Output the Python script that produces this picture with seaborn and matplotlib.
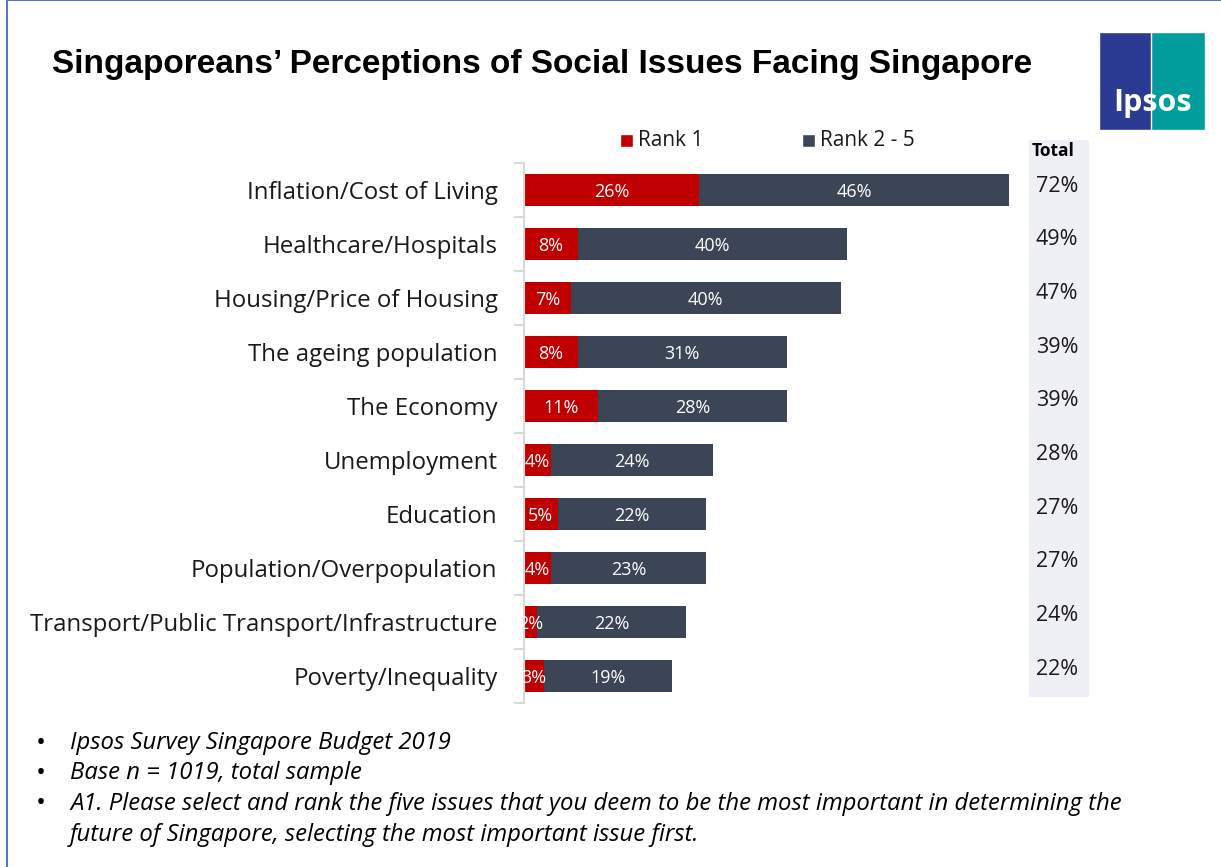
import matplotlib
matplotlib.use("Agg")
import matplotlib.pyplot as plt
import matplotlib.patches as mpatches
import seaborn as sns
import pandas as pd

# data
issues = [
    "Inflation/Cost of Living",
    "Healthcare/Hospitals",
    "Housing/Price of Housing",
    "The ageing population",
    "The Economy",
    "Unemployment",
    "Education",
    "Population/Overpopulation",
    "Transport/Public Transport/Infrastructure",
    "Poverty/Inequality",
]
rank1 = [26, 8, 7, 8, 11, 4, 5, 4, 2, 3]
rank2_5 = [46, 40, 40, 31, 28, 24, 22, 23, 22, 19]
totals = [72, 49, 47, 39, 39, 28, 27, 27, 24, 22]
footnotes = [
    ["Ipsos Survey Singapore Budget 2019"],
    ["Base n = 1019, total sample"],
    ["A1. Please select and rank the five issues that you deem to be the most important in determining the",
     "future of Singapore, selecting the most important issue first."],
]

RED = "#C00000"
DARK = "#3C4556"
W, H = 1221, 867

df = pd.DataFrame({"issue": issues, "rank1": rank1, "rank2_5": rank2_5})
df["stack"] = df["rank1"] + df["rank2_5"]

sns.set_theme(style="white")
plt.rcParams["font.family"] = ["Open Sans", "DejaVu Sans"]

fig = plt.figure(figsize=(W / 100, H / 100), dpi=100)


def fx(px):
    return px / W


def fy(py):
    return 1 - py / H


# page border
fig.patches.append(mpatches.Rectangle((fx(7), fy(880)), fx(1230), 880 / H,
                                      transform=fig.transFigure, fill=False,
                                      edgecolor="#5A78B8", linewidth=1.5,
                                      zorder=-1))

ax = fig.add_axes([fx(524), fy(703), fx(1009) - fx(524), (703 - 163) / H])

sns.barplot(data=df, x="stack", y="issue", color=DARK, width=0.6,
            saturation=1, ax=ax, orient="h", linewidth=0)
sns.barplot(data=df, x="rank1", y="issue", color=RED, width=0.6,
            saturation=1, ax=ax, orient="h", linewidth=0)

for i, (r1, r2) in enumerate(zip(rank1, rank2_5)):
    ax.text(r1 / 2, i + 0.03, f"{r1}%", ha="center", va="center",
            color="white", fontsize=13)
    ax.text(r1 + r2 / 2, i + 0.03, f"{r2}%", ha="center", va="center",
            color="white", fontsize=13)

ax.set_xlim(0, 72)
ax.set_ylim(9.5, -0.5)
ax.set_xlabel("")
ax.set_ylabel("")
ax.set_xticks([])
for s in ["top", "right", "bottom"]:
    ax.spines[s].set_visible(False)
ax.spines["left"].set_color("#D9D9D9")
ax.spines["left"].set_linewidth(1.5)
ax.set_yticks(range(len(issues)))
ax.set_yticklabels(issues, fontsize=17.3, color="#1a1a1a")
ax.set_yticks([i - 0.5 for i in range(len(issues) + 1)], minor=True)
ax.tick_params(axis="y", which="major", length=0, pad=19)
ax.tick_params(axis="y", which="minor", length=7, width=1.5,
               color="#D9D9D9", left=True)

# total column
fig.patches.append(mpatches.Rectangle((fx(1029), fy(697)), fx(1089) - fx(1029),
                                      (697 - 140) / H, transform=fig.transFigure,
                                      facecolor="#EFF0F5", edgecolor="none",
                                      zorder=-1))
fig.text(fx(1053), fy(151), "Total", ha="center", va="center",
         fontsize=12.5, fontweight="bold", color="black")
for i, t in enumerate(totals):
    ypx = 190 + i * 53.7 - 4
    fig.text(fx(1057), fy(ypx), f"{t}%", ha="center", va="center",
             fontsize=15.5, color="#1a1a1a")

# legend
fig.patches.append(mpatches.Rectangle((fx(620), fy(147)), fx(13), 13 / H,
                                      transform=fig.transFigure, facecolor=RED))
fig.text(fx(638), fy(140), "Rank 1", va="center", fontsize=15, color="#1a1a1a")
fig.patches.append(mpatches.Rectangle((fx(802), fy(147)), fx(13), 13 / H,
                                      transform=fig.transFigure, facecolor=DARK))
fig.text(fx(820), fy(140), "Rank 2 - 5", va="center", fontsize=15,
         color="#1a1a1a")

# title
fig.text(fx(52), fy(65), "Singaporeans\u2019 Perceptions of Social Issues Facing Singapore",
         fontsize=24, fontweight="bold", family="Liberation Sans",
         va="center", color="black")

# Ipsos logo
fig.patches.append(mpatches.Rectangle((fx(1099), fy(130)), fx(106), 98 / H,
                                      transform=fig.transFigure, facecolor="#009D9C"))
fig.patches.append(mpatches.Rectangle((fx(1099), fy(130)), fx(52), 98 / H,
                                      transform=fig.transFigure, facecolor="#2B3A92"))
fig.text(fx(1152), fy(103), "Ipsos", ha="center", va="center", fontsize=22,
         fontweight="bold", color="white")

# footnotes
ys = [743, 773, 804]
for y, lines in zip(ys, footnotes):
    fig.text(fx(36), fy(y), "\u2022", va="center", fontsize=19, color="black")
    for k, line in enumerate(lines):
        fig.text(fx(70), fy(y + k * 31), line, va="center", fontsize=17.2,
                 style="italic", color="black")

fig.savefig("out.png", dpi=100)
